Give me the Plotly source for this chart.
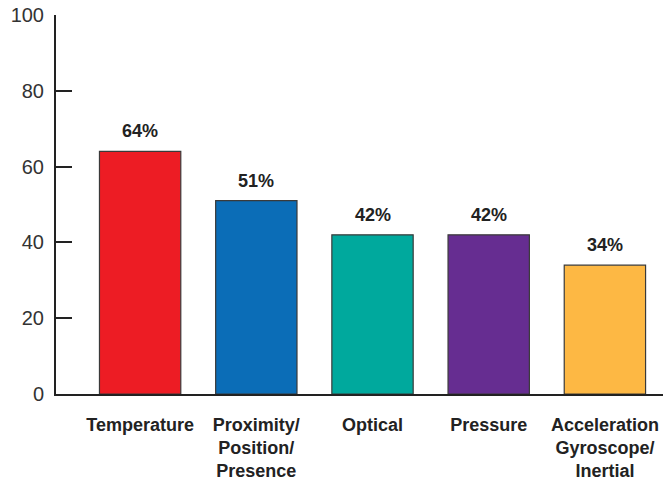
import plotly.graph_objects as go

categories = ["Temperature", "Proximity/<br>Position/<br>Presence", "Optical", "Pressure", "Acceleration<br>Gyroscope/<br>Inertial"]
values = [64, 51, 42, 42, 34]
labels = ["64%", "51%", "42%", "42%", "34%"]
colors = ["#ED1C24", "#0B6DB7", "#00A99D", "#662D91", "#FDB844"]
y_ticks = [0, 20, 40, 60, 80, 100]

FONT = "Liberation Sans, Arial, sans-serif"
xs = list(range(len(categories)))

fig = go.Figure(go.Bar(
    x=xs, y=values,
    marker=dict(color=colors, line=dict(color="#3a3a3a", width=1.2)),
    width=0.7,
))
for x, v, t in zip(xs, values, labels):
    fig.add_annotation(x=x, y=v, text="<b>%s</b>" % t, showarrow=False,
                       yanchor="middle", yshift=20,
                       font=dict(family=FONT, size=18, color="#222"))

fig.update_layout(
    width=663, height=484,
    margin=dict(l=56, r=0, t=15, b=90, autoexpand=False),
    paper_bgcolor="white", plot_bgcolor="white",
    showlegend=False,
    font=dict(family=FONT, color="#222"),
)
fig.update_xaxes(
    range=[-0.724, 4.5], tickmode="array", tickvals=xs,
    ticktext=["<b>%s</b>" % c for c in categories],
    tickfont=dict(size=18, color="#222"), automargin=False,
    showline=True, linecolor="#222", linewidth=2, showgrid=False, zeroline=False,
    ticks="outside", ticklen=13, tickcolor="rgba(0,0,0,0)",
)
fig.update_yaxes(
    range=[0, 100], tickvals=y_ticks, automargin=False,
    tickfont=dict(size=20, color="#333"),
    showline=True, linecolor="#222", linewidth=2, showgrid=False, zeroline=False,
    ticks="inside", ticklen=16, tickwidth=2, tickcolor="#222", ticklabelstandoff=6,
)
fig.write_html("out.html", config={"displayModeBar": False},
               post_script="document.body.style.margin='0';")
